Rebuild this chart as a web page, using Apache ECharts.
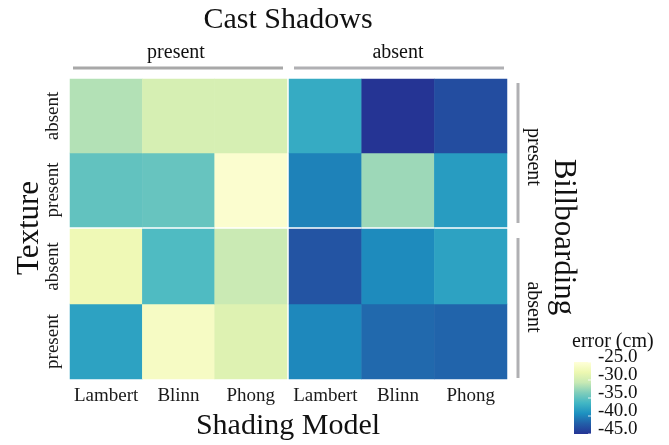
<!DOCTYPE html>
<html>
<head>
<meta charset="utf-8">
<script src="https://cdn.jsdelivr.net/npm/echarts@6/dist/echarts.min.js"></script>
<style>
  html, body { margin: 0; padding: 0; background: #fff; }
  #chart { width: 669px; height: 445px; }
</style>
</head>
<body>
<div id="chart"></div>
<script>
// categories
const shading = ['Lambert', 'Blinn', 'Phong']
const texture = ['present', 'absent'] // bottom to top inside each panel
const castShadows = ['present', 'absent'] // left, right
const billboarding = ['present', 'absent'] // top, bottom
const legendTicks = [-25, -30, -35, -40, -45]

// error (cm), 6 columns: cast shadows present (L,B,P), absent (L,B,P)
const bbPresentTexAbsent = [-31.5, -29.6, -29.6, -37.3, -45.0, -43.3]
const bbPresentTexPresent = [-34.9, -34.7, -25.7, -40.1, -32.4, -38.4]
const bbAbsentTexAbsent = [-27.5, -35.8, -30.5, -42.8, -39.6, -38.0]
const bbAbsentTexPresent = [-38.0, -26.5, -29.0, -39.8, -41.5, -41.8]

const rowsByBillboard = [
  [bbPresentTexPresent, bbPresentTexAbsent],
  [bbAbsentTexPresent, bbAbsentTexAbsent]
]

const FONT = "'Liberation Serif', 'DejaVu Serif', serif"
const colors = ['#ffffd9', '#edf8b1', '#c7e9b4', '#7fcdbb', '#41b6c4', '#1d91c0', '#225ea8', '#253494']

const panelLeft = [70, 289]
const panelWidth = [217, 218]
const panelTop = [79, 229]
const panelHeight = [148, 150]

const grids = [], xAxes = [], yAxes = [], series = []
billboarding.forEach((bb, b) => {
  castShadows.forEach((cs, c) => {
    const idx = grids.length
    grids.push({ left: panelLeft[c], top: panelTop[b], width: panelWidth[c], height: panelHeight[b] })
    xAxes.push({
      type: 'category', gridIndex: idx, data: shading,
      axisLine: { show: false }, axisTick: { show: false }, splitLine: { show: false },
      axisLabel: { show: b === 1, interval: 0, color: '#1a1a1a', fontFamily: FONT, fontSize: 19, margin: 8 }
    })
    yAxes.push({
      type: 'category', gridIndex: idx, data: texture,
      axisLine: { show: false }, axisTick: { show: false }, splitLine: { show: false },
      axisLabel: { show: c === 0, interval: 0, rotate: 90, color: '#1a1a1a', fontFamily: FONT, fontSize: 19, margin: 7 }
    })
    const data = []
    texture.forEach((t, ti) => {
      rowsByBillboard[b][ti].slice(c * 3, c * 3 + 3).forEach((v, si) => {
        data.push([si, ti, v])
      })
    })
    series.push({
      type: 'heatmap', xAxisIndex: idx, yAxisIndex: idx, data: data,
      itemStyle: { borderWidth: 0 },
      emphasis: { disabled: true }
    })
  })
})

// colour bar
const legendLeft = 574, legendTop = 362, legendWidth = 17, legendHeight = 72
const text = (x, y, s, size, rot, align) => ({
  type: 'text', x: x, y: y, rotation: rot || 0,
  style: { text: s, font: size + 'px ' + FONT, fill: '#111', align: align || 'center', verticalAlign: 'middle' }
})
const line = (x1, y1, x2, y2, col) => ({
  type: 'line', shape: { x1: x1, y1: y1, x2: x2, y2: y2 }, style: { stroke: col || '#b0b0b3', lineWidth: 3 }
})

const graphic = [
  text(288, 20, 'Cast Shadows', 30),
  text(176, 53, castShadows[0], 20),
  text(398, 53, castShadows[1], 20),
  line(73, 68, 283, 68, '#a8a8a8'),
  line(294, 68, 504, 68),
  line(518, 83, 518, 223),
  line(518, 238, 518, 378),
  text(533, 157, billboarding[0], 20, -Math.PI / 2),
  text(533, 307, billboarding[1], 20, -Math.PI / 2),
  text(563, 237, 'Billboarding', 31, -Math.PI / 2),
  text(30, 228, 'Texture', 31, Math.PI / 2),
  text(288, 426, 'Shading Model', 30),
  text(572, 342, 'error (cm)', 20, 0, 'left'),
  {
    type: 'rect',
    shape: { x: legendLeft, y: legendTop, width: legendWidth, height: legendHeight },
    style: {
      fill: new echarts.graphic.LinearGradient(0, 0, 0, 1,
        colors.map((col, i) => ({ offset: i / (colors.length - 1), color: col })))
    }
  }
]
legendTicks.forEach((t) => {
  const y = legendTop + (legendTicks[0] - t) / (legendTicks[0] - legendTicks[legendTicks.length - 1]) * legendHeight
  graphic.push(text(598, y - 5, t.toFixed(1), 19, 0, 'left'))
  graphic.push({ type: 'line', shape: { x1: legendLeft + legendWidth - 3, y1: y, x2: legendLeft + legendWidth, y2: y }, style: { stroke: '#ffffff', lineWidth: 1, opacity: 0.8 } })
})

const chart = echarts.init(document.getElementById('chart'))
chart.setOption({
  backgroundColor: '#fff',
  animation: false,
  grid: grids,
  xAxis: xAxes,
  yAxis: yAxes,
  visualMap: {
    type: 'continuous', min: -45, max: -25, show: false,
    seriesIndex: series.map((s, i) => i),
    inRange: { color: colors.slice().reverse() }
  },
  series: series,
  graphic: graphic
})
</script>
</body>
</html>
